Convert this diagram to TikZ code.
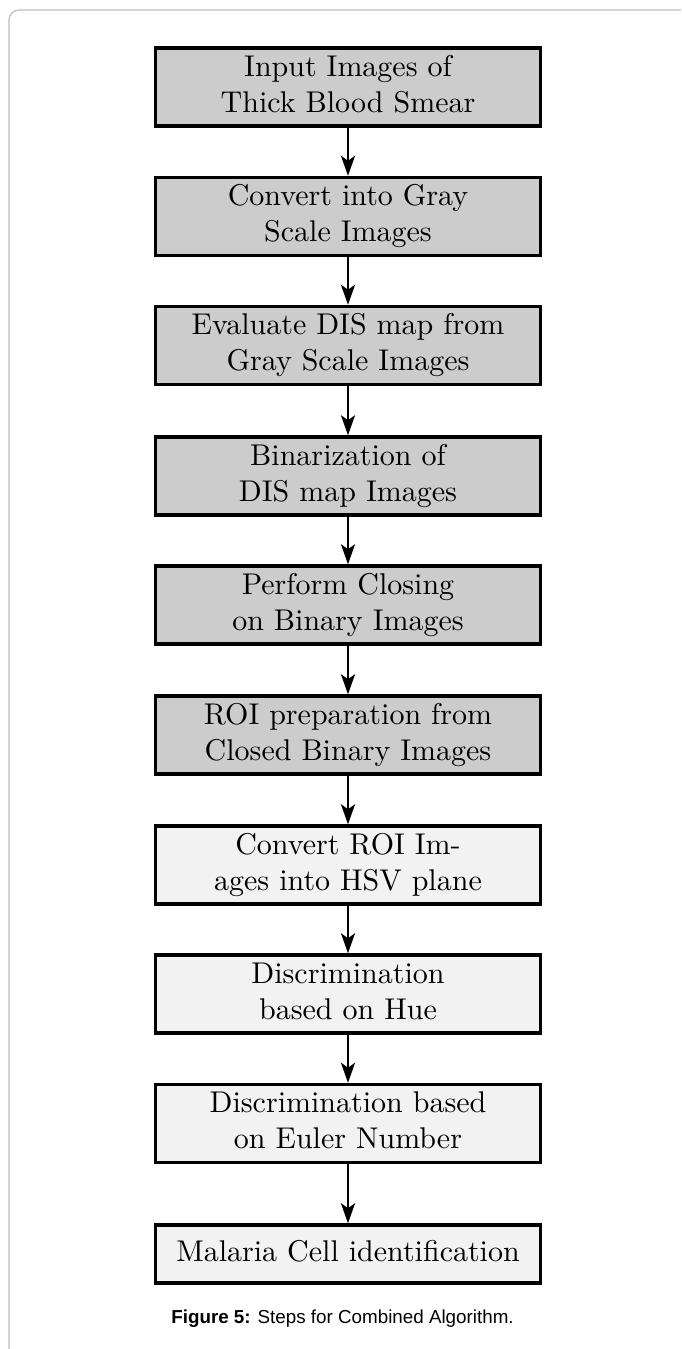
\documentclass[tikz,border=0pt]{standalone}
\usepackage{fontspec}
\usepackage{graphicx}
\newfontfamily\capfont{Liberation Sans}
\usetikzlibrary{arrows.meta}
\definecolor{darkbox}{HTML}{CCCCCC}
\definecolor{lightbox}{HTML}{F2F2F2}
\definecolor{framegray}{HTML}{BDBDBD}
\newcommand\boxtext[1]{\scalebox{1.5}{\fontsize{10}{12.1}\selectfont\begin{tabular}{@{}c@{}}#1\end{tabular}}}
\tikzset{
  stepbox/.style={draw=black, line width=1.7pt, minimum width=192.5pt, minimum height=39pt,
    align=center, inner sep=0pt},
  darkstep/.style={stepbox, fill=darkbox},
  lightstep/.style={stepbox, fill=lightbox},
  flow/.style={line width=1.4pt, -{Stealth[length=10pt,width=7pt,inset=2.5pt]}},
}
\begin{document}
\begin{tikzpicture}[x=0.5pt,y=-0.5pt]
\useasboundingbox (0,0) rectangle (681,1349);
\draw[framegray, line width=0.6pt, rounded corners=5pt] (9,1349) -- (9,10) -- (681,10);
\node[darkstep] (n1) at (348,87) {\boxtext{Input Images of\\Thick Blood Smear}};
\node[darkstep] (n2) at (348,216.5) {\boxtext{Convert into Gray\\Scale Images}};
\node[darkstep] (n3) at (348,345.5) {\boxtext{Evaluate DIS map from\\Gray Scale Images}};
\node[darkstep] (n4) at (348,476) {\boxtext{Binarization of\\DIS map Images}};
\node[darkstep] (n5) at (348,605) {\boxtext{Perform Closing\\on Binary Images}};
\node[darkstep] (n6) at (348,735) {\boxtext{ROI preparation from\\Closed Binary Images}};
\node[lightstep] (n7) at (348,865) {\boxtext{Convert ROI Im-\\ages into HSV plane}};
\node[lightstep] (n8) at (348,994) {\boxtext{Discrimination\\based on Hue}};
\node[lightstep] (n9) at (348,1123.5) {\boxtext{Discrimination based\\on Euler Number}};
\node[lightstep, minimum height=29pt] (n10) at (348,1254) {\boxtext{Malaria Cell identification}};
\foreach \a/\b in {n1/n2,n2/n3,n3/n4,n4/n5,n5/n6,n6/n7,n7/n8,n8/n9,n9/n10}
  \draw[flow] (\a.south) -- (\b.north);
\node[font=\capfont\fontsize{9.4}{11}\selectfont, anchor=base, inner sep=0pt] (cap) at (342.5,1323)
  {\textbf{Figure 5:} Steps for Combined Algorithm.};
\end{tikzpicture}
\end{document}
